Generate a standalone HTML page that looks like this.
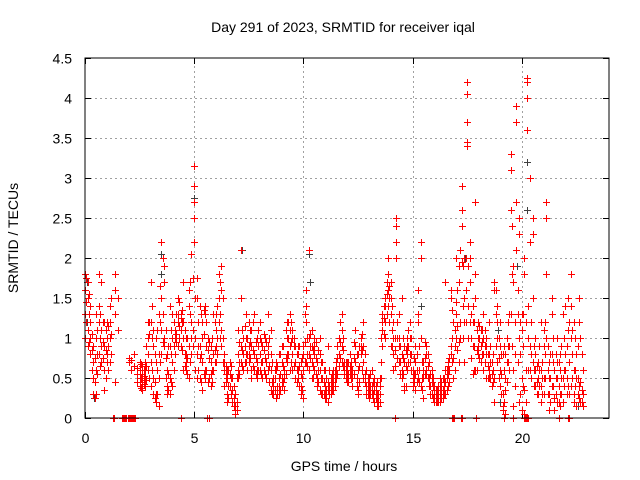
<!DOCTYPE html>
<html><head><meta charset="utf-8"><style>
html,body{margin:0;padding:0;background:#fff}
svg{display:block;font-family:"Liberation Sans",sans-serif}
</style></head><body>
<svg id="chart" width="640" height="480" viewBox="0 0 640 480">
<rect x="0" y="0" width="640" height="480" fill="#fff"/>
<text x="343" y="32" text-anchor="middle" font-size="14" fill="#000">Day 291 of 2023, SRMTID for receiver iqal</text>
<text x="0" y="0" transform="translate(18,238) rotate(-90)" text-anchor="middle" font-size="14" fill="#000">SRMTID / TECUs</text>
<text x="344" y="471" text-anchor="middle" font-size="14" fill="#000">GPS time / hours</text>
<g id="grid"></g>
<g id="ticks"></g>
<g id="black-series"></g>
<g id="red-series"></g>
<rect x="85" y="58" width="524" height="360" fill="none" stroke="#000" stroke-width="1"/>
</svg>
<script>
const xTicks=[0,5,10,15,20];
const xTickLabels=["0","5","10","15","20"];
const yTicks=[0,0.5,1,1.5,2,2.5,3,3.5,4,4.5];
const yTickLabels=["0","0.5","1","1.5","2","2.5","3","3.5","4","4.5"];
// rows: [time, value, value, ...]
const redRows=[
[0,1.8,1.6,1.0,1.3],[0.125,1.7,1.5,1.1,0.9],[0.25,1.2,0.8,1.4,1.0],[0.375,0.7,0.5,0.3,0.9],
[0.5,0.6,0.3,1.0,1.3],[0.625,1.8,1.2,0.8,1.4],[0.75,1.1,0.7,0.9,1.7],[0.875,1.2,0.9,0.35,0.6],
[1.0,1.0,0.8,1.2,0.7],[1.125,1.2,1.0,0.7,1.4],[1.375,0.45,1.8,1.6,1.3],[1.5,1.5,1.1],
[2.0,0.7,0.75],[2.25,0.8,0.65],[2.5,0.6,0.4,0.5,0.7],[2.625,0.55,0.35,0.65,0.45],
[2.75,0.6,0.5,0.4,0.7],[2.875,1.0,0.8,0.6,1.2],[3.0,1.2,1.7,0.7,0.4],[3.125,1.1,0.9,0.3,0.5],
[3.25,0.2,0.3,0.7,1.0],[3.375,0.5,0.8,1.3,0.15],[3.5,1.1,2.2,1.5,0.8],[3.625,1.9,1.7,1.0,0.9],
[3.75,0.4,0.3,0.8,0.6],[3.875,1.4,0.9,0.3,0.5],[4.0,1.0,0.7,1.3,0.4],[4.125,1.0,1.1,0.8],
[4.25,1.5,1.2,0.9,1.3],[4.375,1.1,0.9,1.3,1.25],[4.5,1.0,0.6,1.7,1.2],[4.625,0.7,1.0,0.6,0.8],
[4.75,0.5,0.9,1.4,1.6],[4.875,1.0,1.2,0.8,2.05],[5.0,3.15,2.9,2.7,2.5,2.2],[5.125,1.75,1.5,0.8,0.5],
[5.25,1.4,0.9,0.5,0.75],[5.375,1.2,1.0,0.7,0.35],[5.5,1.4,0.5,1.3,0.6],[5.625,1.0,0.85,0.45],
[5.75,0.7,0.4,0.55,0.9],[5.875,0.8,1.3,0.6],[6.0,1.3,1.1,0.9,0.7],[6.125,1.8,1.5,1.2],
[6.25,1.9,1.6,1.1,0.9],[6.375,0.6,0.8,0.4,0.7],[6.5,0.5,0.3,0.6,0.2],[6.625,0.55,0.7,0.4],
[6.75,0.35,0.2,0.5],[6.875,0.1,0.15,0.3,0.05],[7.0,0.6,0.5,0.8,1.1],[7.125,1.5,0.9,0.7,2.1],
[7.25,1.0,0.8,0.6],[7.375,1.3,1.0,0.8,0.7],[7.5,0.9,0.7,1.2,0.8],[7.625,0.5,0.6,1.1,0.9],
[7.75,0.8,0.6,1.3],[7.875,0.7,0.5,0.6,1.0],[8.0,0.8,0.6,1.2,1.0],[8.125,0.9,0.7,0.5],
[8.25,0.55,0.75,1.0],[8.375,0.9,0.6,1.3,0.8],[8.5,0.35,0.6,0.8,1.1],[8.625,0.5,0.4,0.3],
[8.75,0.7,0.25,0.6],[8.875,0.3,0.8,0.5,0.4],[9.0,0.4,0.7,0.9,0.5],[9.125,0.6,0.35,0.5],
[9.25,0.8,1.0,1.2,0.7],[9.375,1.1,0.9,1.3,0.6],[9.5,1.0,0.8,0.6,1.1],[9.625,0.7,0.5,0.9],
[9.75,0.8,0.6,0.9,0.5],[9.875,0.7,0.3,0.4,0.55],[10.0,0.8,0.6,0.9,0.25],[10.125,1.6,1.4,1.2,0.7],
[10.25,2.1,1.0,0.8,0.6],[10.375,1.1,0.9,0.7,0.5],[10.5,0.8,0.6,0.9,1.0],[10.625,0.7,0.5,0.4],
[10.75,1.0,0.8,0.6,0.35],[10.875,0.5,0.3,0.7],[11.0,0.4,0.25,0.3,0.6],[11.125,0.35,0.2,0.45,0.9],
[11.25,0.5,0.4,0.3],[11.375,0.55,0.45,0.35,0.6],[11.5,0.7,0.6,0.5],[11.625,1.0,0.8,0.65],
[11.75,1.3,1.1,0.9,0.7],[11.875,0.7,0.55,0.6],[12.0,0.6,0.5,0.7,0.45],[12.125,0.65,0.55,0.8],
[12.25,0.6,0.5,0.4],[12.375,0.9,0.7,1.1],[12.5,0.35,0.6,0.8,0.3],[12.625,1.0,0.8,0.9],
[12.75,1.2,0.9,0.7,0.5],[12.875,0.4,0.6,0.3],[13.0,0.5,0.35,0.45,0.25],[13.125,0.6,0.4,0.3],
[13.25,0.35,0.5,0.2,0.4],[13.375,0.3,0.15,0.2,0.45],[13.5,0.2,0.4,0.5,0.3],[13.625,0.9,1.3,1.1,1.2],
[13.75,1.4,1.5,1.2,1.0],[13.875,1.6,1.4,1.8,2.0],[14.0,1.7,1.5,1.3,0.9],[14.125,1.0,0.8,0.6,1.2],
[14.25,2.5,2.4,2.2,2.0],[14.375,1.3,0.9,0.7,1.0],[14.5,0.8,0.6,0.5,1.5],[14.625,0.9,0.7,0.4,0.35],
[14.75,0.8,1.0,0.6,0.9],[14.875,1.2,1.0,0.8,0.7],[15.0,0.6,0.5,0.4,0.45],[15.125,0.9,0.7,0.55,0.35],
[15.25,1.6,1.3,1.2,0.5],[15.375,2.2,2.0,1.0,0.4],[15.5,0.7,0.6,0.5,0.25],[15.625,0.9,0.8,0.6,0.55],
[15.75,0.7,0.5,0.4],[15.875,0.45,0.3,0.5,0.6],[16.0,0.3,0.2,0.4,0.35],[16.125,0.25,0.35,0.2,0.3],
[16.25,0.4,0.3,0.5,0.2],[16.375,0.5,0.35,0.25],[16.5,0.45,0.3,0.6,1.7],[16.625,0.55,0.4,0.7,0.65],
[16.75,1.6,1.5,0.9,0.8],[16.875,1.2,0.75,0.5],[17.0,1.45,1.3,1.0,2.0],[17.125,1.9,1.7,0.7,0.95],
[17.25,2.6,2.4,2.9,1.95],[17.375,2.0,1.5,1.2,0.7],[17.5,4.2,4.05,3.7,3.4,3.45],[17.625,2.2,2.0,1.2,1.7],
[17.75,1.4,1.2,0.9,0.55],[17.875,1.8,2.7,1.5,0.6],[18.0,1.0,0.8,1.2,0.9],[18.125,1.1,0.9,0.7],
[18.25,1.3,1.0,0.8,0.6],[18.375,1.0,0.9,0.8,0.5],[18.5,0.6,0.5,0.8,1.2],[18.625,0.55,0.4,0.7],
[18.75,1.6,1.7,0.2,0.5],[18.875,1.4,1.2,0.7,1.0],[19.0,0.9,0.6,0.4,1.2],[19.125,0.1,0.15,0.8,0.3],
[19.25,0.8,0.5,0.35,0.05],[19.375,0.9,0.7,1.2],[19.5,3.3,3.1,2.6,1.3],[19.625,1.9,1.7,0.15,0.6],
[19.75,3.9,3.7,2.7,2.1],[19.875,2.5,2.3,1.0,0.2],[20.0,1.3,1.1,0.5,0.1],[20.125,2.0,1.8,0.05,0.35],
[20.25,4.25,4.2,4.0,3.6],[20.375,3.0,2.2,0.9,0.6],[20.5,2.5,2.3,1.5,0.7],[20.625,0.6,0.4,0.8,1.0],
[20.75,0.5,0.3,0.7],[20.875,0.4,0.6,0.2,1.2],[21.0,0.9,0.5,0.3,1.1],[21.125,2.7,2.5,1.8,1.0],
[21.25,0.3,0.1,0.5,0.7],[21.375,1.5,0.8,0.4,1.3],[21.5,0.6,0.25,0.1],[21.625,1.0,0.7,0.5,0.2],
[21.75,0.6,0.3,0.8,0.15],[21.875,1.3,0.5,0.2],[22.0,0.8,0.6,1.4],[22.125,1.5,1.1,0.4],
[22.25,1.8,1.4,1.0,0.4],[22.375,0.3,0.6,0.2,1.2],[22.5,0.5,0.15,0.8],[22.625,1.5,1.2,0.4,0.25],
[22.75,0.8,0.35,0.2]
];
// second pass of readings between the first-pass times
const redRows2=[
[0.06,1.75,1.45,1.2],[0.19,1.3,0.95,1.55],[0.31,1.05,0.6,0.85],[0.44,0.45,0.25,0.75],[0.56,0.8,1.1,0.55],
[0.69,1.0,1.3,0.65],[0.81,0.95,1.2,0.75],[0.94,1.1,0.5,0.85],[1.06,0.9,1.15,0.6],[1.19,1.05,0.8,1.5],
[2.12,0.72,0.6],[2.38,0.55,0.45,0.62],[2.56,0.5,0.38,0.68],[2.69,0.6,0.42,0.52],[2.81,0.48,0.65,0.9],
[2.94,1.05,1.2,0.5],[3.06,1.0,1.4,0.6],[3.19,0.25,0.45,0.8],[3.31,0.3,0.6,1.1],[3.44,0.7,1.2,1.65],
[3.56,2.0,1.3,0.95],[3.69,1.1,0.75,0.5],[3.81,0.35,0.55,0.9],[3.94,1.1,0.8,0.45],[4.06,0.9,1.2,0.6],
[4.19,1.3,1.05,0.95],[4.31,1.45,1.15,1.0],[4.44,1.2,0.85,1.35],[4.56,0.8,1.1,0.65],[4.69,0.75,0.55,1.0],
[4.81,1.3,0.7,1.7],[4.94,1.1,1.75,0.9],[5.06,1.5,1.0,0.6],[5.19,1.2,0.6,0.9],[5.31,1.3,0.8,0.45],
[5.44,1.35,1.05,0.55],[5.56,0.9,0.6,1.2],[5.69,0.75,0.5,0.95],[5.81,0.6,0.45,1.0],[5.94,1.2,0.85,0.7],
[6.06,1.4,1.0,0.8],[6.19,1.7,1.3,1.0],[6.31,1.0,0.7,1.5],[6.44,0.65,0.45,0.55],[6.56,0.4,0.6,0.25],
[6.69,0.5,0.3,0.65],[6.81,0.25,0.4,0.15],[6.94,0.2,0.5,0.1],[7.06,0.7,0.95,0.55],[7.19,1.1,0.85,0.65],
[7.31,0.9,0.7,1.15],[7.44,1.0,0.8,0.6],[7.56,0.95,0.75,1.1],[7.69,0.85,0.65,1.2],[7.81,0.75,0.55,0.95],
[7.94,0.9,0.6,1.1],[8.06,0.7,0.95,0.55],[8.19,0.85,0.6,1.05],[8.31,0.7,0.5,0.95],[8.44,0.65,0.45,1.0],
[8.56,0.45,0.7,0.3],[8.69,0.6,0.35,0.5],[8.81,0.4,0.65,0.3],[8.94,0.55,0.8,0.35],[9.06,0.65,0.45,0.9],
[9.19,0.75,1.1,0.55],[9.31,1.0,1.2,0.8],[9.44,0.95,0.7,1.2],[9.56,0.9,0.65,1.0],[9.69,0.6,0.8,0.45],
[9.81,0.65,0.9,0.4],[9.94,0.5,0.75,0.35],[10.06,0.95,0.7,1.3],[10.19,1.0,0.8,0.65],[10.31,0.9,0.75,1.05],
[10.44,0.85,0.65,0.5],[10.56,0.75,0.95,0.55],[10.69,0.85,0.6,0.45],[10.81,0.7,0.5,0.3],[10.94,0.45,0.3,0.6],
[11.06,0.35,0.5,0.25],[11.19,0.4,0.3,0.6],[11.31,0.45,0.35,0.55],[11.44,0.6,0.5,0.4],[11.56,0.75,0.55,0.9],
[11.69,1.2,0.95,0.75],[11.81,0.85,0.65,1.0],[11.94,0.6,0.5,0.7],[12.06,0.55,0.7,0.45],[12.19,0.6,0.7,0.5],
[12.31,0.75,0.55,0.95],[12.44,0.5,0.8,0.4],[12.56,0.65,0.9,0.45],[12.69,1.05,0.85,0.6],[12.81,0.8,0.55,0.45],
[12.94,0.5,0.4,0.3],[13.06,0.4,0.55,0.3],[13.19,0.45,0.3,0.25],[13.31,0.35,0.25,0.4],[13.44,0.3,0.2,0.15],
[13.56,0.7,1.0,0.5],[13.69,1.25,1.05,1.4],[13.81,1.55,1.3,1.7],[13.94,1.5,1.2,1.65],[14.06,1.1,0.9,1.4],
[14.19,0.85,1.0,0.65],[14.31,1.0,0.75,1.2],[14.44,0.7,0.9,0.55],[14.56,0.75,0.55,1.0],[14.69,0.85,0.65,0.4],
[14.81,0.9,1.1,0.7],[14.94,0.8,0.6,1.0],[15.06,0.55,0.75,0.45],[15.19,0.8,0.6,0.45],[15.31,0.9,0.6,0.45],
[15.44,0.7,0.5,0.35],[15.56,0.75,0.55,0.95],[15.69,0.65,0.5,0.8],[15.81,0.55,0.4,0.3],[15.94,0.4,0.25,0.5],
[16.06,0.25,0.35,0.2],[16.19,0.3,0.2,0.4],[16.31,0.35,0.25,0.45],[16.44,0.4,0.3,0.5],[16.56,0.5,0.35,0.6],
[16.69,0.6,0.75,0.45],[16.81,1.0,0.7,1.35],[16.94,0.9,1.1,0.6],[17.06,1.15,0.85,1.6],[17.19,1.2,1.0,2.1],
[17.31,1.9,1.4,1.0],[17.44,2.0,1.6,1.2],[17.56,1.9,1.4,1.0],[17.69,1.3,1.0,0.75],[17.81,1.2,0.9,0.6],
[17.94,1.1,0.85,0.6],[18.06,1.0,0.75,1.15],[18.19,0.95,0.8,1.1],[18.31,0.9,0.7,1.1],[18.44,0.65,0.8,0.5],
[18.56,0.7,0.5,0.9],[18.69,0.6,0.45,0.8],[18.81,1.6,1.3,0.9],[18.94,1.0,0.75,0.5],[19.06,0.8,0.55,0.3],
[19.19,0.6,0.2,0.9],[19.31,0.7,0.45,1.0],[19.44,1.3,0.9,0.6],[19.56,2.4,1.8,0.9],[19.69,1.2,0.8,0.4],
[19.81,1.6,1.3,0.7],[19.94,1.2,0.8,0.3],[20.06,0.9,0.4,1.3],[20.19,0.6,0.2,1.2],[20.31,1.0,0.6,1.4],
[20.44,1.2,0.8,0.5],[20.56,0.9,0.6,0.4],[20.69,0.45,0.65,0.3],[20.81,0.6,0.4,0.9],[20.94,0.7,0.3,0.5],
[21.06,0.8,0.5,1.2],[21.19,0.6,0.3,0.9],[21.31,0.8,0.5,0.2],[21.44,0.7,0.4,1.0],[21.56,0.5,0.3,0.8],
[21.69,0.4,0.7,0.2],[21.81,0.5,0.3,0.9],[21.94,0.6,0.4,1.0],[22.06,0.5,0.3,0.9],[22.19,1.2,0.7,0.3],
[22.31,1.1,0.5,0.8],[22.44,0.6,0.4,1.0],[22.56,0.9,0.3,0.5],[22.69,1.0,0.45,0.2],[22.81,0.6,0.3,0.15]
];
const zeroTimes=[1.3,1.35,1.7,1.75,1.8,1.85,1.9,1.95,2.0,2.05,2.1,2.15,2.2,2.25,2.3,4.4,5.6,5.7,14.2,16.8,16.85,16.9,17.2,17.25,17.9,19.2,19.6,20.1,20.15,20.2,20.25,20.3,21.7,22.1,22.15];
const blackRows=[[0.1,1.7,1.2],[0.4,0.25],[3.5,2.05,1.8],[5.0,2.9,2.75],[7.2,2.1],[10.25,2.1,2.05],[10.3,1.7],[15.4,1.4],[17.4,2.0],[18.9,1.1],[19.0,0.2],[20.25,3.2,2.6],[19.8,1.9],[22.6,0.15]];

const X0=85,X1=609,Y0=418,Y1=58;
function xs(t){return X0+(t/24)*(X1-X0);}
function ys(v){return Y0-(v/4.5)*(Y0-Y1);}
const NS="http://www.w3.org/2000/svg";
const grid=document.getElementById('grid'),ticks=document.getElementById('ticks');
function line(parent,x1,y1,x2,y2,stroke,dash){const l=document.createElementNS(NS,'line');l.setAttribute('x1',x1);l.setAttribute('y1',y1);l.setAttribute('x2',x2);l.setAttribute('y2',y2);l.setAttribute('stroke',stroke);l.setAttribute('stroke-width','1');if(dash)l.setAttribute('stroke-dasharray',dash);parent.appendChild(l);return l;}
yTicks.forEach((v,i)=>{
  const y=Math.round(ys(v))+0.5;
  if(v>0&&v<4.5){const g=line(grid,X0,y,X1,y,'#a0a0a0','2,3');
  
  }
  line(ticks,X0,y,X0+6,y,'#000');line(ticks,X1-6,y,X1,y,'#000');
  const t=document.createElementNS(NS,'text');t.setAttribute('x',72);t.setAttribute('y',y+5);t.setAttribute('text-anchor','end');t.setAttribute('font-size','14');t.textContent=yTickLabels[i];
  
  
  ticks.appendChild(t);
});
xTicks.forEach((v,i)=>{
  const x=Math.round(xs(v))+0.5;
  if(v>0){const g=line(grid,x,Y0,x,Y1,'#a0a0a0','2,3');
  
  }
  line(ticks,x,Y0,x,Y0-6,'#000');line(ticks,x,Y1,x,Y1+6,'#000');
  const t=document.createElementNS(NS,'text');t.setAttribute('x',x);t.setAttribute('y',443);t.setAttribute('text-anchor','middle');t.setAttribute('font-size','14');t.textContent=xTickLabels[i];
  
  
  ticks.appendChild(t);
});
function plus(parent,t,v,color){
  const x=Math.round(xs(t))+0.5,y=Math.round(ys(v))+0.5;
  const p=document.createElementNS(NS,'path');
  p.setAttribute('d','M'+(x-3.5)+' '+y+'H'+(x+3.5)+'M'+x+' '+(y-3.5)+'V'+(y+3.5));
  p.setAttribute('stroke',color);p.setAttribute('stroke-width','1');p.setAttribute('fill','none');
  
  
  parent.appendChild(p);
}
const bg=document.getElementById('black-series'),rg=document.getElementById('red-series');
blackRows.forEach(r=>{for(let k=1;k<r.length;k++)plus(bg,r[0],r[k],'#404040');});
redRows.forEach(r=>{for(let k=1;k<r.length;k++)plus(rg,r[0],r[k],'#ff0000');});
redRows2.forEach(r=>{for(let k=1;k<r.length;k++)plus(rg,r[0],r[k],'#ff0000');});
zeroTimes.forEach(t=>plus(rg,t,0,'#ff0000'));
</script>
</body></html>
